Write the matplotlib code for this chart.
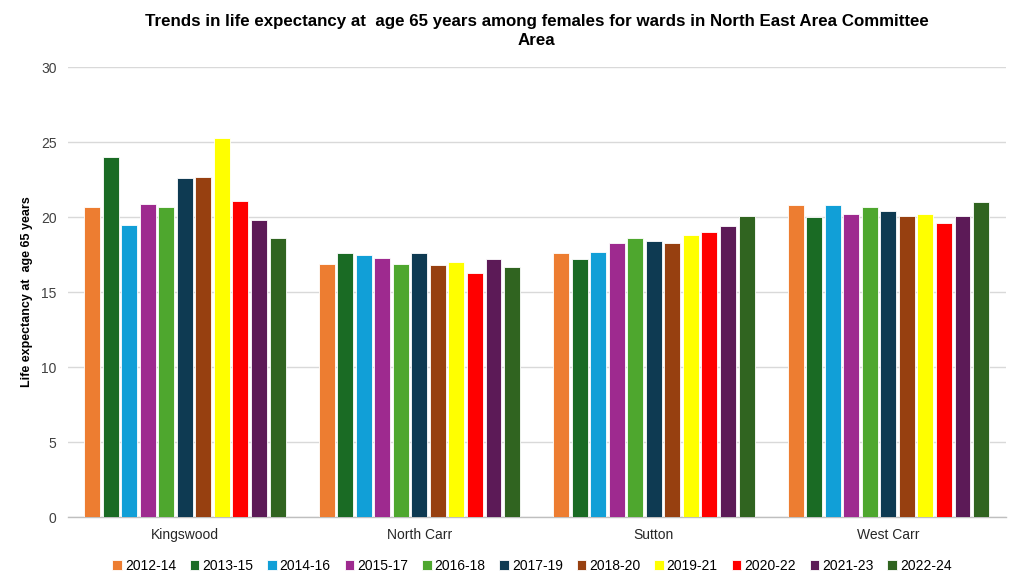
import numpy as np
import matplotlib.pyplot as plt

plt.rcParams['font.family'] = ['Liberation Sans', 'DejaVu Sans']

wards = ["Kingswood", "North Carr", "Sutton", "West Carr"]
periods = ["2012-14", "2013-15", "2014-16", "2015-17", "2016-18", "2017-19",
           "2018-20", "2019-21", "2020-22", "2021-23", "2022-24"]

kingswood = [20.7, 24.0, 19.5, 20.9, 20.7, 22.6, 22.7, 25.3, 21.1, 19.8, 18.6]
north_carr = [16.9, 17.6, 17.5, 17.3, 16.9, 17.6, 16.8, 17.0, 16.3, 17.2, 16.7]
sutton = [17.6, 17.2, 17.7, 18.3, 18.6, 18.4, 18.3, 18.8, 19.0, 19.4, 20.1]
west_carr = [20.8, 20.0, 20.8, 20.2, 20.7, 20.4, 20.1, 20.2, 19.6, 20.1, 21.0]

colors = ["#ED7D31", "#1A6B24", "#119FD7", "#9E2A8F", "#4EA72E", "#0E3A52",
          "#974010", "#FFFF00", "#FF0000", "#5C1A57", "#306420"]

values = np.array([kingswood, north_carr, sutton, west_carr])

fig, ax = plt.subplots(figsize=(10.24, 5.83), dpi=100)
fig.subplots_adjust(left=0.066, right=0.982, top=0.885, bottom=0.113)

x = np.arange(len(wards))
n = len(periods)
group_w = 0.87
slot = group_w / n
for i, p in enumerate(periods):
    ax.bar(x - group_w / 2 + slot * (i + 0.5), values[:, i], width=slot * 0.86,
           color=colors[i], edgecolor="white", linewidth=0.6, label=p, zorder=3)

ax.set_xlim(-0.5, len(wards) - 0.5)
ax.set_ylim(0, 30)
ax.set_yticks(range(0, 31, 5))
ax.set_xticks(x)
ax.set_xticklabels(wards, fontsize=10, color="#262626")
ax.tick_params(axis="y", labelsize=10, colors="#404040", length=0, pad=8)
ax.tick_params(axis="x", length=0, pad=8)
ax.yaxis.grid(True, color="#D9D9D9", linewidth=1, zorder=0)
for s in ["top", "right", "left"]:
    ax.spines[s].set_visible(False)
ax.spines["bottom"].set_color("#BFBFBF")
ax.spines["bottom"].set_linewidth(1)

ax.set_ylabel("Life expectancy at  age 65 years", fontsize=9, fontweight="bold", labelpad=6)
ax.set_title("Trends in life expectancy at  age 65 years among females for wards in North East Area Committee\nArea",
             fontsize=12.2, fontweight="bold", pad=16, linespacing=1.3)

ax.legend(loc="upper center", bbox_to_anchor=(0.495, -0.065), ncol=n, frameon=False,
          fontsize=10, handlelength=0.7, handleheight=0.7, handletextpad=0.2,
          columnspacing=1.0)

plt.savefig("out.png", dpi=100)
